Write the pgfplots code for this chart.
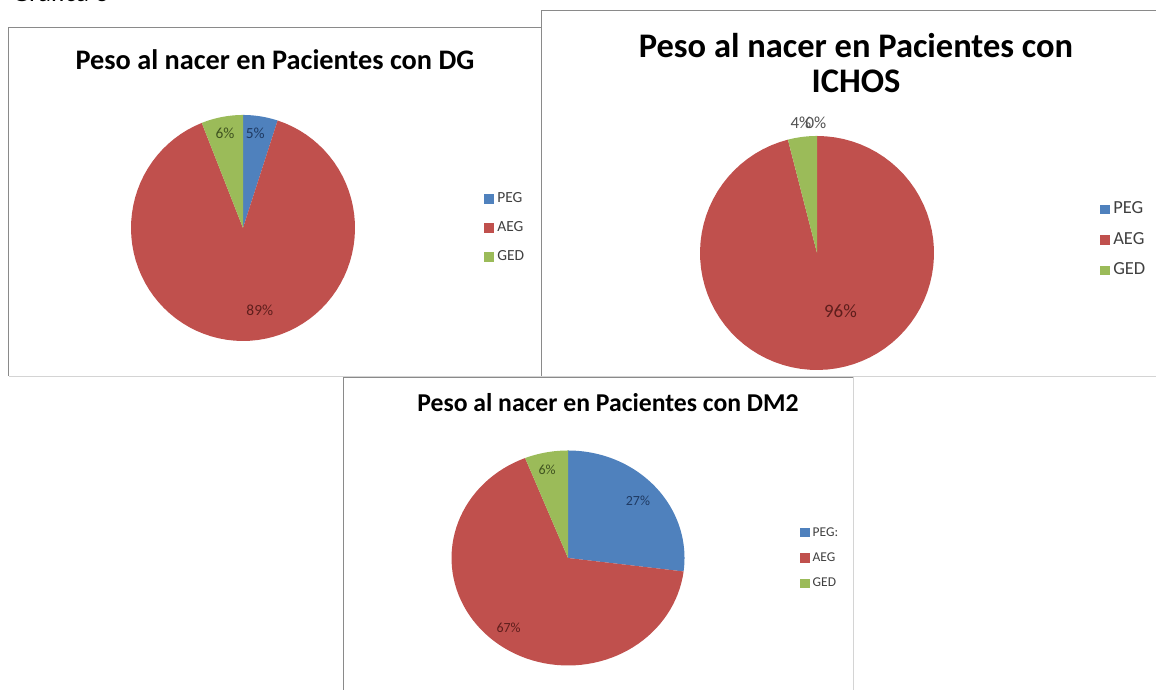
\documentclass[border=0pt]{standalone}
\usepackage{pgfplots}
\pgfplotsset{compat=1.18}
\usepackage{fontspec}
\setmainfont{Carlito}
\definecolor{peg}{HTML}{4F81BD}
\definecolor{aeg}{HTML}{C0504D}
\definecolor{ged}{HTML}{9BBB59}
\definecolor{pegT}{HTML}{1F3A63}
\definecolor{aegT}{HTML}{5E1E1C}
\definecolor{gedT}{HTML}{3F5220}
\definecolor{boxL}{HTML}{8A8A8A}
\definecolor{boxR}{HTML}{D4D4D4}
\definecolor{legT}{HTML}{404040}

% one slice: start angle, end angle, colour (angles derived from the values below)
\newcommand{\slice}[3]{%
  \addplot[fill=#3, draw=none, domain=#1:#2, samples=80, forget plot]
    ({cos(x)},{sin(x)}) -- (0,0) -- cycle;}

\pgfplotsset{
  piebase/.style={
    scale only axis, hide axis,
    xmin=-1, xmax=1, ymin=-1, ymax=1,
    clip=false, anchor=origin,
    legend cell align=left,
    legend image code/.code={\path[##1] (0bp,-4.7bp) rectangle (9.5bp,4.7bp);
      \path (11.5bp,0bp);},
  },
}

\begin{document}
\begin{tikzpicture}
\begin{scope}[x=1bp,y=1bp]
\useasboundingbox (0,0) rectangle (1156,690);
\clip (0,0) rectangle (1156,690);
\fill[white] (0,0) rectangle (1156,690);
% heading cut by the top edge
\node[anchor=base west, font=\fontsize{27}{29}\selectfont, inner sep=0pt] at (12,688.5) {Gráfica 3};
% Box 1
\fill[white] (8.5,314) rectangle (541,663);
\draw[boxR] (8.5,314) -- (541,314);
\draw[boxL] (8.5,314) -- (8.5,663) -- (541,663);
\node[font=\bfseries\fontsize{28.4}{30}\selectfont] at (275,630) {Peso al nacer en Pacientes con DG};
\end{scope}

% values (%): PEG 5, AEG 89, GED 6
\begin{axis}[piebase, at={(243bp,462bp)}, width=224bp, height=226bp,
  legend style={draw=none, fill=none, at={(1.563,0.5)}, anchor=west, text=legT,
    font=\fontsize{15.5}{17}\selectfont, row sep=14bp,
    nodes={inner sep=1.5bp, text height=10bp, text depth=2bp}}]
  \pgfmathsetmacro{\a}{90-3.6*5}
  \pgfmathsetmacro{\b}{\a-3.6*89}
  \pgfmathsetmacro{\c}{\b-3.6*6}
  \slice{90}{\a}{peg}
  \slice{\a}{\b}{aeg}
  \slice{\b}{\c}{ged}
  \addlegendimage{fill=peg, draw=none}\addlegendentry{PEG}
  \addlegendimage{fill=aeg, draw=none}\addlegendentry{AEG}
  \addlegendimage{fill=ged, draw=none}\addlegendentry{GED}
  \node[text=pegT, font=\fontsize{15.5}{17}\selectfont] at (0.11,0.84) {5\%};
  \node[text=gedT, font=\fontsize{15.5}{17}\selectfont] at (-0.16,0.84) {6\%};
  \node[text=aegT, font=\fontsize{15.5}{17}\selectfont] at (0.15,-0.73) {89\%};
\end{axis}

\begin{scope}[x=1bp,y=1bp]
\clip (0,0) rectangle (1156,690);
% Box 2
\fill[white] (541,314) rectangle (1160,680);
\draw[boxR] (541,314) -- (1160,314);
\draw[boxL] (541,314) -- (541,680) -- (1160,680);
\node[font=\bfseries\fontsize{34.6}{37}\selectfont, align=center] at (856,627)
  {Peso al nacer en Pacientes con\\[-1.5bp]ICHOS};
\end{scope}

% values (%): PEG 0, AEG 96, GED 4
\begin{axis}[piebase, at={(817bp,437bp)}, width=234bp, height=234bp,
  legend style={draw=none, fill=none, at={(1.697,0.556)}, anchor=west, text=legT,
    font=\fontsize{18.5}{20}\selectfont, row sep=12.5bp,
    nodes={inner sep=1.5bp, text height=12bp, text depth=3bp}}]
  \pgfmathsetmacro{\a}{90-3.6*0}
  \pgfmathsetmacro{\b}{\a-3.6*96}
  \pgfmathsetmacro{\c}{\b-3.6*4}
  \slice{\a}{\b}{aeg}
  \slice{\b}{\c}{ged}
  \addlegendimage{fill=peg, draw=none}\addlegendentry{PEG}
  \addlegendimage{fill=aeg, draw=none}\addlegendentry{AEG}
  \addlegendimage{fill=ged, draw=none}\addlegendentry{GED}
  \node[text=black!68, font=\fontsize{17}{19}\selectfont] at (-0.137,1.11) {4\%};
  \node[text=black!68, font=\fontsize{17}{19}\selectfont] at (-0.01,1.11) {0\%};
  \node[text=aegT, font=\fontsize{19}{21}\selectfont] at (0.2,-0.50) {96\%};
\end{axis}

\begin{scope}[x=1bp,y=1bp]
\clip (0,0) rectangle (1156,690);
% Box 3
\fill[white] (343,-5) rectangle (853,313);
\draw[boxR] (853,-5) -- (853,313);
\draw[boxL] (343,-5) -- (343,313) -- (853,313);
\node[font=\bfseries\fontsize{25.8}{28}\selectfont] at (608,287) {Peso al nacer en Pacientes con DM2};
\end{scope}

% values (%): PEG 27, AEG 67, GED 6
\begin{axis}[piebase, at={(568bp,132bp)}, width=233bp, height=215bp,
  legend style={draw=none, fill=none, at={(1.482,0.5)}, anchor=west, text=legT,
    font=\fontsize{13.5}{15}\selectfont, row sep=12bp,
    nodes={inner sep=1.2bp, text height=9bp, text depth=2bp}}]
  \pgfmathsetmacro{\a}{90-3.6*27}
  \pgfmathsetmacro{\b}{\a-3.6*67}
  \pgfmathsetmacro{\c}{\b-3.6*6}
  \slice{90}{\a}{peg}
  \slice{\a}{\b}{aeg}
  \slice{\b}{\c}{ged}
  \addlegendimage{fill=peg, draw=none}\addlegendentry{PEG:}
  \addlegendimage{fill=aeg, draw=none}\addlegendentry{AEG}
  \addlegendimage{fill=ged, draw=none}\addlegendentry{GED}
  \node[text=gedT, font=\fontsize{14}{16}\selectfont] at (-0.18,0.82) {6\%};
  \node[text=pegT, font=\fontsize{14}{16}\selectfont] at (0.6,0.53) {27\%};
  \node[text=aegT, font=\fontsize{14}{16}\selectfont] at (-0.51,-0.65) {67\%};
\end{axis}
\end{tikzpicture}
\end{document}
